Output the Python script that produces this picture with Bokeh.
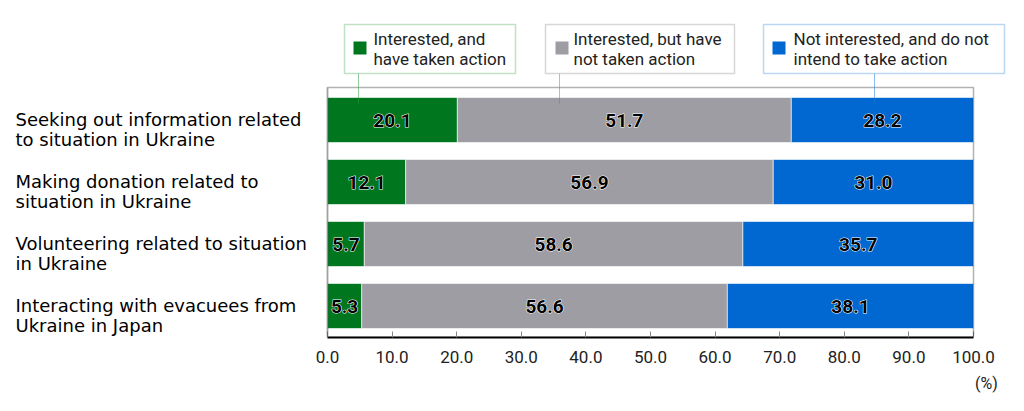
from bokeh.plotting import figure
from bokeh.models import (ColumnDataSource, Range1d, Label, LinearAxis,
                          BoxAnnotation, FixedTicker, NumeralTickFormatter,
                          CustomJSTickFormatter)
from bokeh.core.properties import value
from bokeh.embed import file_html
from bokeh.resources import INLINE

# ---------------- data ----------------
categories = [
    "Seeking out information related\nto situation in Ukraine",
    "Making donation related to\nsituation in Ukraine",
    "Volunteering related to situation\nin Ukraine",
    "Interacting with evacuees from\nUkraine in Japan",
]
taken = [20.1, 12.1, 5.7, 5.3]
not_taken = [51.7, 56.9, 58.6, 56.6]
not_interested = [28.2, 31.0, 35.7, 38.1]

series_keys = ["taken", "not_taken", "not_interested"]
series_names = [
    "Interested, and\nhave taken action",
    "Interested, but have\nnot taken action",
    "Not interested, and do not\nintend to take action",
]
bar_colors = ["#00771f", "#9e9da3", "#0068d0"]
box_colors = ["#2a9a3c", "#7a7a7a", "#1f7ad8"]
x_ticks = [0, 10, 20, 30, 40, 50, 60, 70, 80, 90, 100]
unit_label = "(%)"

# ---------------- layout helpers (pixel -> view coordinates) ----------------
W, H = 1024, 411
X_ZERO_PX, X_FULL_PX = 327, 973          # pixel of 0 % and 100 %
PX_PER_UNIT = (X_FULL_PX - X_ZERO_PX) / 100.0
ROW_PX = 62.0                             # pixel step between bars
LAST_ROW_PX = 305.5                       # pixel centre of the lowest bar
FRAME_BOTTOM_PX = 337


def px2x(px):
    return (px - X_ZERO_PX) / PX_PER_UNIT


def px2y(py):
    return (LAST_ROW_PX - py) / ROW_PX


n = len(categories)
cat_y = [n - 1 - i for i in range(n)]

# ---------------- figure ----------------
p = figure(width=W, height=H, output_backend="svg", toolbar_location=None,
           x_range=Range1d(px2x(0), px2x(W)),
           y_range=Range1d(px2y(FRAME_BOTTOM_PX), px2y(0)),
           y_axis_location=None,
           min_border_left=0, min_border_right=0, min_border_top=0,
           min_border_bottom=H - FRAME_BOTTOM_PX)
p.background_fill_color = "white"
p.border_fill_color = "white"
p.outline_line_color = None
p.xgrid.visible = False
p.ygrid.visible = False

src = ColumnDataSource(dict(y=cat_y, taken=taken, not_taken=not_taken,
                            not_interested=not_interested))
p.hbar_stack(series_keys, y="y", height=0.726, color=bar_colors, source=src,
             line_color="white", line_width=0.6)

# plot box: top and right black, left grey
p.add_layout(BoxAnnotation(left=0, right=100, top=px2y(87), bottom=px2y(FRAME_BOTTOM_PX),
                           fill_color=None, line_color="black", line_width=1.5))
p.add_layout(BoxAnnotation(left=0, right=0, top=px2y(87), bottom=px2y(FRAME_BOTTOM_PX),
                           fill_color=None, line_color="#7a7a7a", line_width=2))

# value labels at the centre of each segment (black with white halo)
lx, ly, lt = [], [], []
for i in range(n):
    start = 0.0
    for vals in (taken, not_taken, not_interested):
        v = vals[i]
        lx.append(start + v / 2)
        ly.append(cat_y[i])
        lt.append(f"{v:.1f}")
        start += v
lsrc = ColumnDataSource(dict(x=lx, y=ly, t=lt))
common = dict(x="x", y="y", text="t", source=lsrc, text_align="center",
              text_baseline="middle", text_font=value("Roboto"),
              text_font_style="bold", text_font_size="19px")
p.text(text_color="white", text_outline_color="white", **common)
p.text(text_color="black", **common)

# category labels, left aligned
ysrc = ColumnDataSource(dict(x=[px2x(15)] * n, y=[c - 0.15 for c in cat_y], t=categories))
p.text(x="x", y="y", text="t", source=ysrc, text_align="left", text_baseline="middle",
       text_font=value("DejaVu Sans"), text_font_size="18px", text_color="black",
       text_line_height=0.955)

# x axis
xa = p.xaxis[0]
xa.ticker = FixedTicker(ticks=x_ticks)
xa.formatter = NumeralTickFormatter(format="0.0")
xa.bounds = (0, 100)
xa.axis_line_color = "black"
xa.axis_line_width = 2
xa.major_tick_in = 6
xa.major_tick_out = 0
xa.major_tick_line_color = "#888888"
xa.minor_tick_line_color = None
xa.major_label_text_font = "Roboto"
xa.major_label_text_font_size = "17px"
xa.major_label_text_color = "#222222"
xa.major_label_standoff = 13

# unit label as a second axis below
ua = LinearAxis(ticker=FixedTicker(ticks=[102]),
                formatter=CustomJSTickFormatter(code=f"return '{unit_label}'"),
                axis_line_color=None, major_tick_line_color=None,
                minor_tick_line_color=None, major_label_standoff=2,
                major_label_text_font="Roboto", major_label_text_font_size="16px",
                major_label_text_color="#222222")
p.add_layout(ua, "below")

# legend boxes with leader lines
box_lr = [(344, 515), (545, 734), (763, 1004)]
sq_left = [353, 555, 772]
txt_left = [373, 573, 793]
lead_x = [358, 559, 874]
for i in range(3):
    l, r = box_lr[i]
    p.add_layout(BoxAnnotation(left=px2x(lead_x[i]), right=px2x(lead_x[i]),
                               top=px2y(73), bottom=px2y(103),
                               fill_color=None, line_color=box_colors[i], line_width=1))
    p.add_layout(BoxAnnotation(left=px2x(l), right=px2x(r), top=px2y(24), bottom=px2y(73),
                               fill_color="white", fill_alpha=1,
                               line_color=box_colors[i], line_width=1.5))
    p.add_layout(BoxAnnotation(left=px2x(sq_left[i]), right=px2x(sq_left[i] + 13),
                               top=px2y(41), bottom=px2y(54),
                               fill_color=bar_colors[i], fill_alpha=1, line_color=None))
    p.add_layout(Label(x=px2x(txt_left[i]), y=px2y(48.5), text=series_names[i],
                       text_align="left", text_baseline="middle",
                       text_font="Roboto", text_font_size="17px", text_color="#222222",
                       text_line_height=1.0))

open("out.html", "w").write(file_html(p, INLINE))
